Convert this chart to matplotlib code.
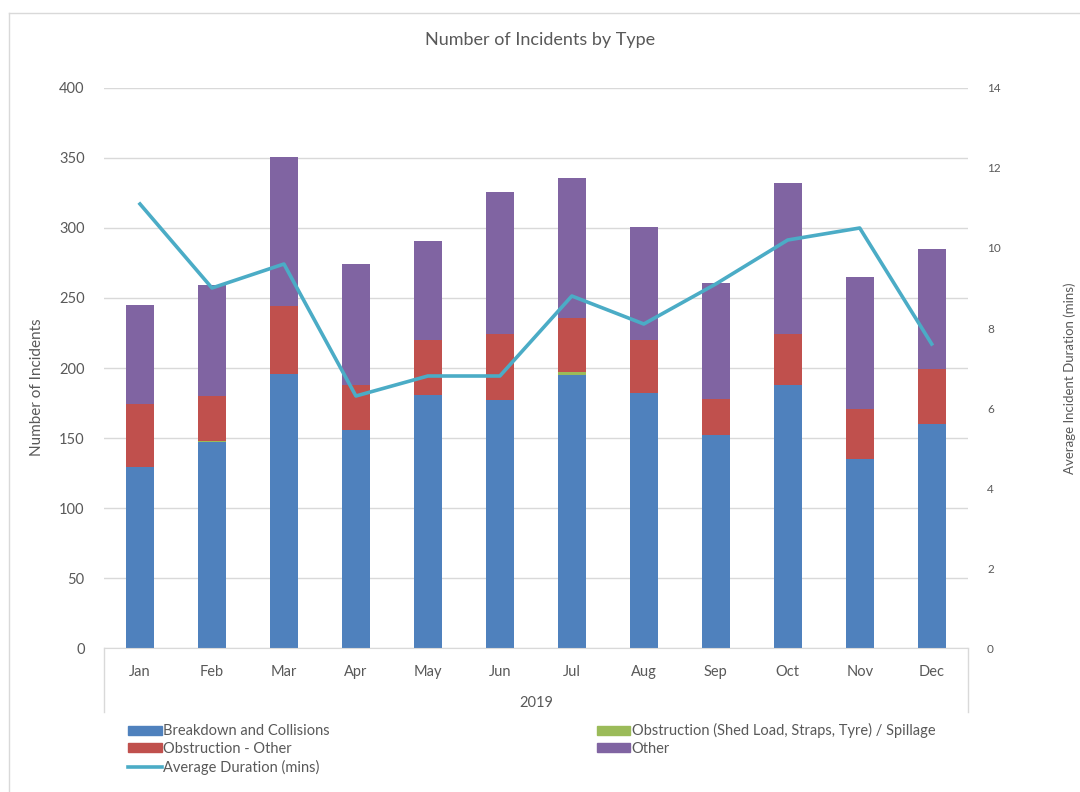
import numpy as np
import matplotlib.pyplot as plt
from matplotlib.lines import Line2D
from matplotlib.patches import Patch

plt.rcParams['font.family'] = ['Lato', 'DejaVu Sans']

# Monthly incident counts, 2019
months = ["Jan", "Feb", "Mar", "Apr", "May", "Jun", "Jul", "Aug", "Sep", "Oct", "Nov", "Dec"]
breakdown = [129, 147, 196, 156, 181, 177, 195, 182, 152, 188, 135, 160]
shed_load = [0, 1, 0, 0, 0, 0, 2, 0, 0, 0, 0, 0]
obstruction_other = [45, 32, 48, 32, 39, 47, 39, 38, 26, 36, 36, 39]
other = [71, 79, 107, 86, 71, 102, 100, 81, 83, 108, 94, 86]
avg_duration = [11.1, 9.0, 9.6, 6.3, 6.8, 6.8, 8.8, 8.1, 9.1, 10.2, 10.5, 7.6]

c_blue = "#4F81BD"
c_green = "#9BBB59"
c_red = "#C0504D"
c_purple = "#8064A2"
c_line = "#4BACC6"
grid_col = "#D9D9D9"
txt_col = "#595959"

fig = plt.figure(figsize=(10.8, 7.92), dpi=100)
ax = fig.add_axes([0.0963, 0.1818, 0.7997, 0.7071])
x = np.arange(len(months))
w = 0.39

b1 = np.array(breakdown)
b2 = b1 + np.array(shed_load)
b3 = b2 + np.array(obstruction_other)
ax.bar(x, breakdown, w, color=c_blue, zorder=2)
ax.bar(x, shed_load, w, bottom=b1, color=c_green, zorder=2)
ax.bar(x, obstruction_other, w, bottom=b2, color=c_red, zorder=2)
ax.bar(x, other, w, bottom=b3, color=c_purple, zorder=2)

ax.set_xlim(-0.5, len(months) - 0.5)
ax.set_ylim(0, 400)
ax.set_yticks(range(0, 401, 50))
ax.yaxis.grid(True, color=grid_col, lw=1)
ax.set_axisbelow(True)
for s in ["top", "right", "left"]:
    ax.spines[s].set_visible(False)
ax.spines["bottom"].set_color(grid_col)
ax.tick_params(axis="y", length=0, pad=14, labelsize=10.5, labelcolor=txt_col)
ax.tick_params(axis="x", length=0, pad=12, labelsize=10.5, labelcolor=txt_col)
ax.set_xticks(x)
ax.set_xticklabels(months)

# category box lines and year label
for xe in (-0.5, len(months) - 0.5):
    ax.plot([xe, xe], [0, -0.115], transform=ax.get_xaxis_transform(),
            color=grid_col, lw=1, clip_on=False)
ax.text(5.5, -0.098, "2019", transform=ax.get_xaxis_transform(),
        ha="center", va="center", fontsize=10.5, color=txt_col)

ax2 = ax.twinx()
ax2.plot(x, avg_duration, color=c_line, lw=2.6, zorder=3)
ax2.set_ylim(0, 14)
ax2.set_yticks(range(0, 15, 2))
for s in ax2.spines.values():
    s.set_visible(False)
ax2.tick_params(axis="y", length=0, pad=14, labelsize=8.5, labelcolor=txt_col)

fig.text(0.5, 0.949, "Number of Incidents by Type", ha="center", va="center",
         fontsize=13, color=txt_col)
fig.text(37 / 1080, 1 - 387 / 792, "Number of Incidents", rotation=90,
         ha="center", va="center", fontsize=11, color=txt_col)
fig.text(1070 / 1080, 1 - 378 / 792, "Average Incident Duration (mins)", rotation=90,
         ha="center", va="center", fontsize=9.5, color=txt_col)

handles = [Patch(color=c_blue), Patch(color=c_green), Patch(color=c_red),
           Patch(color=c_purple), Line2D([], [], color=c_line, lw=2.6)]
labels = ["Breakdown and Collisions", "Obstruction (Shed Load, Straps, Tyre) / Spillage",
          "Obstruction - Other", "Other", "Average Duration (mins)"]
order = [0, 2, 4, 1, 3]
fig.legend([handles[i] for i in order], [labels[i] for i in order], ncol=2,
           loc="upper left", bbox_to_anchor=(0.112, 0.096), frameon=False,
           fontsize=10.5, labelcolor=txt_col, handlelength=2.3, handleheight=0.6,
           handletextpad=0.1, labelspacing=0.25, columnspacing=18.3, borderpad=0)

# screenshot frame
fig.add_artist(Line2D([9 / 1080, 9 / 1080], [0, 1 - 13 / 792], color="#D9D9D9", lw=1))
fig.add_artist(Line2D([9 / 1080, 1], [1 - 13 / 792, 1 - 13 / 792], color="#D9D9D9", lw=1))

fig.savefig("out.png", dpi=100)
